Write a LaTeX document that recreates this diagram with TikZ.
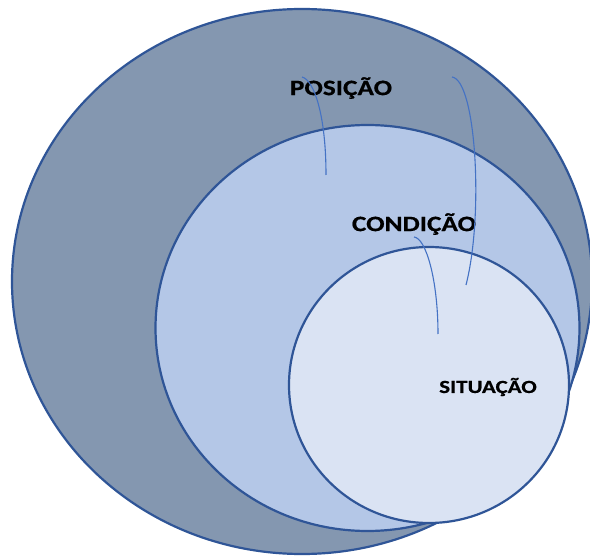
\documentclass[tikz,border=0pt]{standalone}
\usepackage{fontspec}
\newfontfamily\lblfont[FakeStretch=1.24, FakeBold=0.6]{Carlito Bold}
\definecolor{outerfill}{HTML}{8497B0}
\definecolor{midfill}{HTML}{B4C7E7}
\definecolor{innerfill}{HTML}{DAE3F3}
\definecolor{edge}{HTML}{2F5597}
\definecolor{leader}{HTML}{4472C4}
\tikzset{
  ring/.style={draw=edge, line width=2.2pt},
  lbl/.style={font=\lblfont\fontsize{22}{26}\selectfont, text=black, inner sep=0pt},
  lbls/.style={font=\lblfont\fontsize{18.5}{22}\selectfont, text=black, inner sep=0pt},
  leaderline/.style={draw=leader, line width=1.1pt}
}
\begin{document}
\begin{tikzpicture}[x=1pt,y=-1pt]
\useasboundingbox (0,0) rectangle (590,556);
\clip (0,0) rectangle (590,556);
\fill[white] (0,0) rectangle (590,556);
\path[ring, fill=outerfill] (302,281.5) ellipse [x radius=290, y radius=272.5];
\path[ring, fill=midfill] (367.5,328) ellipse [x radius=212, y radius=203];
\path[ring, fill=innerfill] (429,385) ellipse [x radius=140, y radius=138];
\node[lbl] (pos) at (341,88) {POSIÇÃO};
\node[lbl] (cond) at (414,224) {CONDIÇÃO};
\node[lbls] (sit) at (488,387) {SITUAÇÃO};
\coordinate (p1s) at (302,77);
\coordinate (p1e) at (326,175);
\coordinate (p2s) at (452,77);
\coordinate (p2e) at (466,285);
\coordinate (c1s) at (414,237);
\coordinate (c1e) at (438,334);
\draw[leaderline] (p1s) .. controls (314,80) and (326,115) .. (p1e);
\draw[leaderline] (p2s) .. controls (476,80) and (484,215) .. (p2e);
\draw[leaderline] (c1s) .. controls (426,238) and (438,280) .. (c1e);
\end{tikzpicture}
\end{document}
